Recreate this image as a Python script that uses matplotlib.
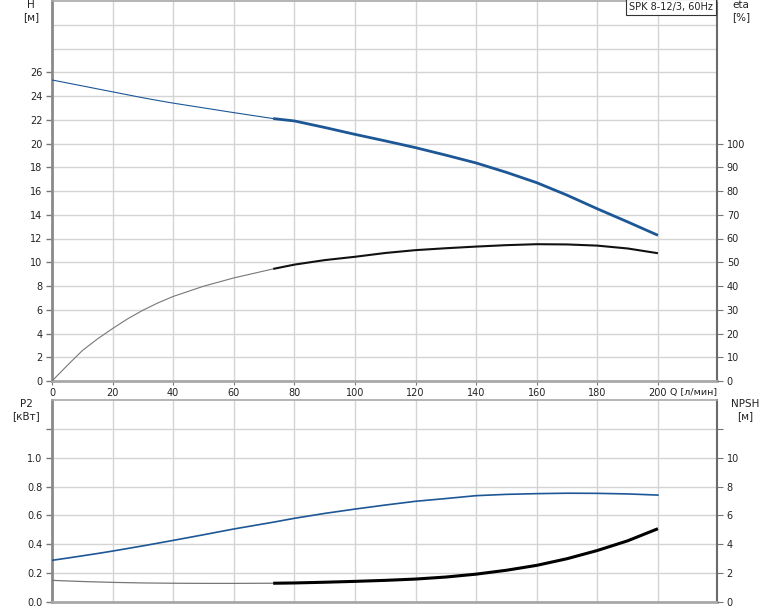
import matplotlib

matplotlib.use("Agg")
import matplotlib.pyplot as plt
import numpy as np

plt.rcParams["font.family"] = ["DejaVu Sans"]
plt.rcParams["font.size"] = 7

# flow, л/мин
q = [0, 5, 10, 15, 20, 25, 30, 35, 40, 50, 60, 73, 80, 90, 100, 110, 120, 130, 140,
     150, 160, 170, 180, 190, 200]
# head, м
head = [25.35, 25.1, 24.85, 24.6, 24.35, 24.1, 23.85, 23.62, 23.4, 23.0, 22.6, 22.1, 21.9,
        21.35, 20.77, 20.22, 19.65, 19.02, 18.36, 17.57, 16.7, 15.65, 14.5, 13.4, 12.27]
# efficiency, %
eta = [0, 6.5, 12.8, 17.7, 22.1, 26.2, 29.8, 32.9, 35.6, 39.9, 43.4, 47.2, 49.0,
       50.9, 52.3, 53.9, 55.1, 55.9, 56.6, 57.2, 57.6, 57.5, 57.0, 55.8, 53.8]
# shaft power, кВт
p2 = [0.289, 0.304, 0.32, 0.336, 0.353, 0.371, 0.389, 0.408, 0.427, 0.466, 0.506, 0.553, 0.58,
      0.614, 0.644, 0.672, 0.698, 0.717, 0.737, 0.746, 0.751, 0.754, 0.753, 0.749, 0.741]
# NPSH, м
npsh = [1.5, 1.46, 1.42, 1.39, 1.36, 1.34, 1.32, 1.31, 1.3, 1.29, 1.29, 1.3, 1.32,
        1.37, 1.43, 1.5, 1.59, 1.73, 1.93, 2.2, 2.54, 3.0, 3.57, 4.24, 5.08]

q_ticks = list(range(0, 201, 20))
q_split = 73  # thin line below this flow, thick above
title = "SPK 8-12/3, 60Hz"

BLUE = "#1d5796"
GRID = "#d4d4d4"
TXT = "#222222"


def style_axes(ax):
    ax.spines["left"].set_color("#8a8a8a")
    ax.spines["left"].set_linewidth(2)
    ax.spines["bottom"].set_color("#a8a8a8")
    ax.spines["bottom"].set_linewidth(2)
    ax.spines["right"].set_color("#6a6a6a")
    ax.spines["right"].set_linewidth(1.5)
    ax.spines["top"].set_color("#a8a8a8")
    ax.spines["top"].set_linewidth(1.2)
    ax.tick_params(axis="y", which="major", length=4, width=1, color="#777777",
                   labelcolor=TXT, pad=3)
    ax.tick_params(axis="y", which="minor", length=0)
    ax.set_xticks(q_ticks)
    ax.set_xlim(0, 219.5)
    ax.grid(True, which="both", color=GRID, linewidth=1)
    ax.set_axisbelow(True)


def split_plot(ax, x, y, thin_color, thick_color, thin_lw, thick_lw):
    x = np.asarray(x)
    y = np.asarray(y)
    lo = x <= q_split
    hi = x >= q_split
    ax.plot(x[lo], y[lo], color=thin_color, lw=thin_lw, solid_capstyle="butt", zorder=3)
    ax.plot(x[hi], y[hi], color=thick_color, lw=thick_lw, solid_capstyle="butt",
            solid_joinstyle="round", zorder=3)


fig = plt.figure(figsize=(7.74, 6.11), dpi=100)

# upper panel: H and eta
ax_h = fig.add_axes([52 / 774, 1 - 381 / 611, 665 / 774, 380 / 611])
style_axes(ax_h)
ax_h.set_ylim(0, 32)
ax_h.set_yticks(range(0, 27, 2))
ax_h.set_yticks([28, 30], minor=True)
ax_h.tick_params(axis="x", length=3, color="#777777", labelcolor=TXT, pad=2)
ax_eta = ax_h.twinx()
ax_eta.set_ylim(0, 160)
ax_eta.set_yticks(range(0, 101, 10))
ax_eta.tick_params(axis="y", length=4, color="#777777", labelcolor=TXT, pad=3)
for s in ax_eta.spines.values():
    s.set_visible(False)

split_plot(ax_h, q, head, BLUE, BLUE, 0.8, 2.0)
split_plot(ax_eta, q, eta, "#777777", "#111111", 0.8, 1.5)

ax_h.text(0.994, 0.997, title, transform=ax_h.transAxes, ha="right", va="top",
          fontsize=7, color=TXT,
          bbox=dict(boxstyle="square,pad=0.3", fc="white", ec="#333333", lw=0.8), zorder=5)

# lower panel: P2 and NPSH
ax_p = fig.add_axes([52 / 774, 1 - 602 / 611, 665 / 774, 202 / 611])
style_axes(ax_p)
ax_p.set_ylim(0, 1.4)
ax_p.set_yticks([0, 0.2, 0.4, 0.6, 0.8, 1.0, 1.2])
ax_p.set_yticklabels(["0.0", "0.2", "0.4", "0.6", "0.8", "1.0", ""])
ax_p.tick_params(axis="x", length=0, labelbottom=False)
ax_npsh = ax_p.twinx()
ax_npsh.set_ylim(0, 14)
ax_npsh.set_yticks(range(0, 13, 2))
ax_npsh.set_yticklabels(["0", "2", "4", "6", "8", "10", ""])
ax_npsh.tick_params(axis="y", length=4, color="#777777", labelcolor=TXT, pad=3)
for s in ax_npsh.spines.values():
    s.set_visible(False)

ax_p.plot(q, p2, color=BLUE, lw=1.2, zorder=3)
split_plot(ax_npsh, q, npsh, "#777777", "#000000", 0.9, 2.2)

# axis titles
fig.text(31 / 774, 1 - 5 / 611, "H", ha="center", va="center", color=TXT, fontsize=7.5)
fig.text(31 / 774, 1 - 17 / 611, "[м]", ha="center", va="center", color=TXT, fontsize=7.5)
fig.text(741 / 774, 1 - 5 / 611, "eta", ha="center", va="center", color=TXT, fontsize=7.5)
fig.text(741 / 774, 1 - 17 / 611, "[%]", ha="center", va="center", color=TXT, fontsize=7.5)
fig.text(26 / 774, 1 - 404 / 611, "P2", ha="center", va="center", color=TXT, fontsize=7.5)
fig.text(26 / 774, 1 - 416 / 611, "[кВт]", ha="center", va="center", color=TXT, fontsize=7.5)
fig.text(745 / 774, 1 - 404 / 611, "NPSH", ha="center", va="center", color=TXT, fontsize=7.5)
fig.text(745 / 774, 1 - 416 / 611, "[м]", ha="center", va="center", color=TXT, fontsize=7.5)
fig.text(670 / 774, 1 - 392 / 611, "Q [л/мин]", ha="left", va="center", color=TXT, fontsize=6.8)

fig.savefig("out.png", dpi=100)
